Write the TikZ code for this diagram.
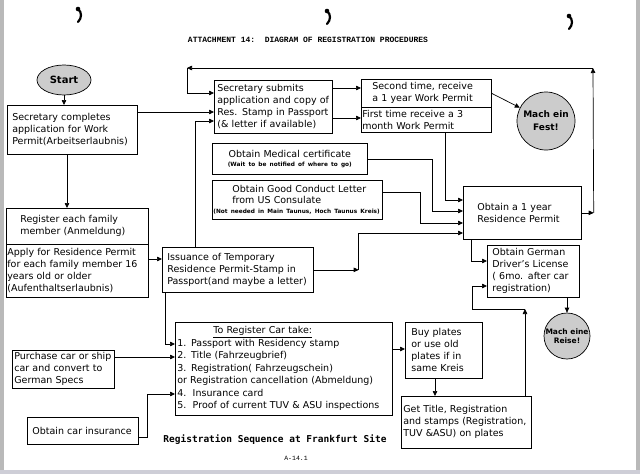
\documentclass[tikz,border=0pt]{standalone}
\usepackage{fontspec}
\setmainfont{DejaVu Sans}
\newfontfamily\typefont{Liberation Mono}
\newfontfamily\capfont{DejaVu Sans Mono}
\usetikzlibrary{arrows.meta,      % arrow tips
                shapes.geometric} % ellipse
\hyphenpenalty=10000

\begin{document}
\begin{tikzpicture}[x=1pt, y=-1pt, line width=0.7pt,
        >={Triangle[length=5pt,width=4.5pt]},
        stepbox/.style={draw, anchor=north west, align=left, inner ysep=0pt,
                        font=\fontsize{9.5}{12}\selectfont},
        bubble/.style={draw, circle, fill=gray!40, inner sep=0pt, align=center}]
        \useasboundingbox (0,0) rectangle (640,474);
        \fill[white] (0,0) rectangle (640,474);
        \fill[gray!55] (0,0) rectangle (4,474);
        \fill[gray!55] (636,0) rectangle (640,474);
        \fill[blue!10!gray!35] (0,470) rectangle (640,474);

        % punch marks
        \foreach \mx/\my in {78/9, 327/11, 569/16}
        {
        \fill (\mx,\my) circle (2.3pt);
        \draw[line width=2.2pt, line cap=round] (\mx,\my) .. controls (\mx+4,\my+3) and (\mx+4,\my+9) .. (\mx,\my+13);
        };

        \node[font=\typefont\bfseries\fontsize{8}{10}\selectfont] (title) at (308,40) {ATTACHMENT 14:\ \ DIAGRAM OF REGISTRATION PROCEDURES};

        % left column
        \node[draw, ellipse, fill=gray!40, minimum width=54pt, minimum height=30pt,
              font=\fontsize{10}{12}\selectfont\bfseries] (start) at (64,80) {Start};
        \node[stepbox, minimum width=130pt, minimum height=49pt, inner xsep=5pt, text width=120pt] (comp) at (7,105)
            {Secretary completes\\application for Work\\Permit(Arbeitserlaubnis)};
        \node[stepbox, minimum width=142pt, minimum height=36pt, inner xsep=14pt, text width=114pt] (reg) at (6,208)
            {Register each family\\member (Anmeldung)};
        \node[stepbox, minimum width=142pt, minimum height=53pt, inner xsep=1pt, text width=140pt] (apply) at (6,244)
            {Apply for Residence Permit\\for each family member 16\\years old or older\\(Aufenthaltserlaubnis)};
        \node[stepbox, minimum width=151pt, minimum height=45pt, inner xsep=5pt, text width=141pt] (iss) at (162,247)
            {Issuance of Temporary\\Residence Permit-Stamp in\\Passport(and maybe a letter)};

        % work permit
        \node[stepbox, minimum width=118pt, minimum height=53pt, inner xsep=3pt, text width=112pt] (sec) at (214,80)
            {Secretary submits\\application and copy of\\Res. Stamp in Passport\\(\& letter if available)};
        \node[stepbox, minimum width=130pt, minimum height=28pt, inner xsep=11pt, text width=108pt] (perm2) at (361,79)
            {Second time, receive\\a 1 year Work Permit};
        \node[stepbox, minimum width=130pt, minimum height=25pt, inner xsep=1pt, text width=128pt] (perm1) at (361,107)
            {First time receive a 3\\month Work Permit};
        \node[bubble, minimum size=58pt, font=\fontsize{9}{13}\selectfont\bfseries] (fest) at (546,121) {Mach ein\\Fest!};

        % residence permit
        \node[stepbox, align=center, minimum width=155pt, minimum height=31pt, inner xsep=2pt, text width=151pt] (med) at (212,143)
            {Obtain Medical certificate\\[-3pt]{\fontsize{5.8}{7}\selectfont\bfseries (Wait to be notified of where to go)}};
        \node[stepbox, minimum width=170pt, minimum height=39pt, inner xsep=1pt, text width=168pt] (cond) at (212,180)
            {\hspace*{19pt}Obtain Good Conduct Letter\\[-1pt]\hspace*{19pt}from US Consulate\\[-2pt]{\fontsize{5.8}{7}\selectfont\bfseries (Not needed in Main Taunus, Hoch Taunus Kreis)}};
        \node[stepbox, minimum width=118pt, minimum height=53pt, inner xsep=14pt, text width=90pt] (res) at (463,186)
            {Obtain a 1 year\\Residence Permit};
        \node[stepbox, minimum width=92pt, minimum height=52pt, inner xsep=5pt, text width=82pt] (drive) at (487,245)
            {Obtain German\\Driver's License\\( 6mo. after car\\registration)};
        \node[bubble, minimum size=46pt, font=\fontsize{7.5}{9}\selectfont\bfseries] (reise) at (567,336) {Mach eine\\Reise!};

        % car
        \node[stepbox, minimum width=217pt, minimum height=93pt, inner xsep=2pt, text width=213pt,
              font=\fontsize{9.5}{12.5}\selectfont] (car) at (175,322)
            {\hspace*{36pt}\underline{To Register Car take:}\\
             1. Passport with Residency stamp\\
             2. Title (Fahrzeugbrief)\\
             3. Registration( Fahrzeugschein)\\
             or Registration cancellation (Abmeldung)\\
             4.\ \ Insurance card\\
             5.\ \ Proof of current TUV \& ASU inspections};
        \node[stepbox, minimum width=102pt, minimum height=38pt, inner xsep=2pt, text width=98pt] (buycar) at (12,350)
            {Purchase car or ship\\car and convert to\\German Specs};
        \node[stepbox, minimum width=111pt, minimum height=27pt, inner xsep=5pt, text width=101pt] (ins) at (27,417)
            {Obtain car insurance};
        \node[stepbox, minimum width=77pt, minimum height=56pt, inner xsep=6pt, text width=65pt] (buy) at (405,322)
            {Buy plates\\or use old\\plates if in\\same Kreis};
        \node[stepbox, minimum width=130pt, minimum height=52pt, inner xsep=2pt, text width=126pt] (get) at (401,396)
            {Get Title, Registration\\and stamps (Registration,\\TUV \&ASU) on plates};

        \node[font=\capfont\bfseries\fontsize{9.5}{11}\selectfont] (cap) at (275,440) {Registration Sequence at Frankfurt Site};
        \node[font=\typefont\fontsize{6.5}{8}\selectfont] (page) at (296,458) {A-14.1};

        % connectors
        \draw[->] (start.south) -- (start.south |- comp.north);
        \draw[->] (comp.east |- 0,112) -- (sec.west |- 0,112);
        \draw[->] (67,0 |- comp.south) -- (67,0 |- reg.north);
        \draw[->] (apply.east |- 0,259) -- (iss.west |- 0,259);
        \draw[->] (195,0 |- iss.north) |- (sec.west |- 0,121);
        \draw[->] (sec.east |- 0,88) -- (perm2.west |- 0,88);
        \draw[->] (sec.east |- 0,118) -- (perm1.west |- 0,118);
        \draw[->] (perm2.east) -- (fest);
        \draw[->] (445,0 |- perm1.south) |- (res.west |- 0,200);
        \draw[->] (med.east) -| (432,211) -- (res.west |- 0,211);
        \draw[->] (cond.east |- 0,192) -| (420,223) -- (res.west |- 0,223);
        \coordinate (issturn) at ([xshift=45pt]iss.east);
        \draw[->] (iss.east) -- (issturn);
        \draw[->] (issturn) |- (res.west |- 0,233);

        % loop back to the secretary
        \coordinate (loopA) at ([xshift=12pt]res.east);
        \coordinate (loopB) at (593,68);
        \coordinate (loopC) at (187,68);
        \draw[->] (res.east) -- (loopA);
        \draw[->] (loopA) -- (loopB);
        \draw[->] (loopB) -- (loopC);
        \draw[->] (loopC) |- (sec.west |- 0,93);

        \draw[->] (471,0 |- res.south) |- (drive.west |- 0,261);
        \draw[->] (567,0 |- drive.south) -- (reise.north);
        \draw[->] (165,0 |- iss.south) |- (car.west |- 0,344);
        \draw[->] (buycar.east |- 0,357) -- (car.west |- 0,357);
        \draw[->] (ins.east |- 0,437) -| (147,394) -- (car.west |- 0,394);
        \draw[->] (car.east |- 0,349) -- (buy.west |- 0,349);
        \draw[->] (435,0 |- buy.south) -- (435,0 |- get.north);
        \coordinate (plateup) at (525,309);
        \draw[->] (525,0 |- get.north) -- (plateup);
        \draw[->] (plateup) -- (472,309) |- (drive.west |- 0,286);

    \end{tikzpicture}
\end{document}
